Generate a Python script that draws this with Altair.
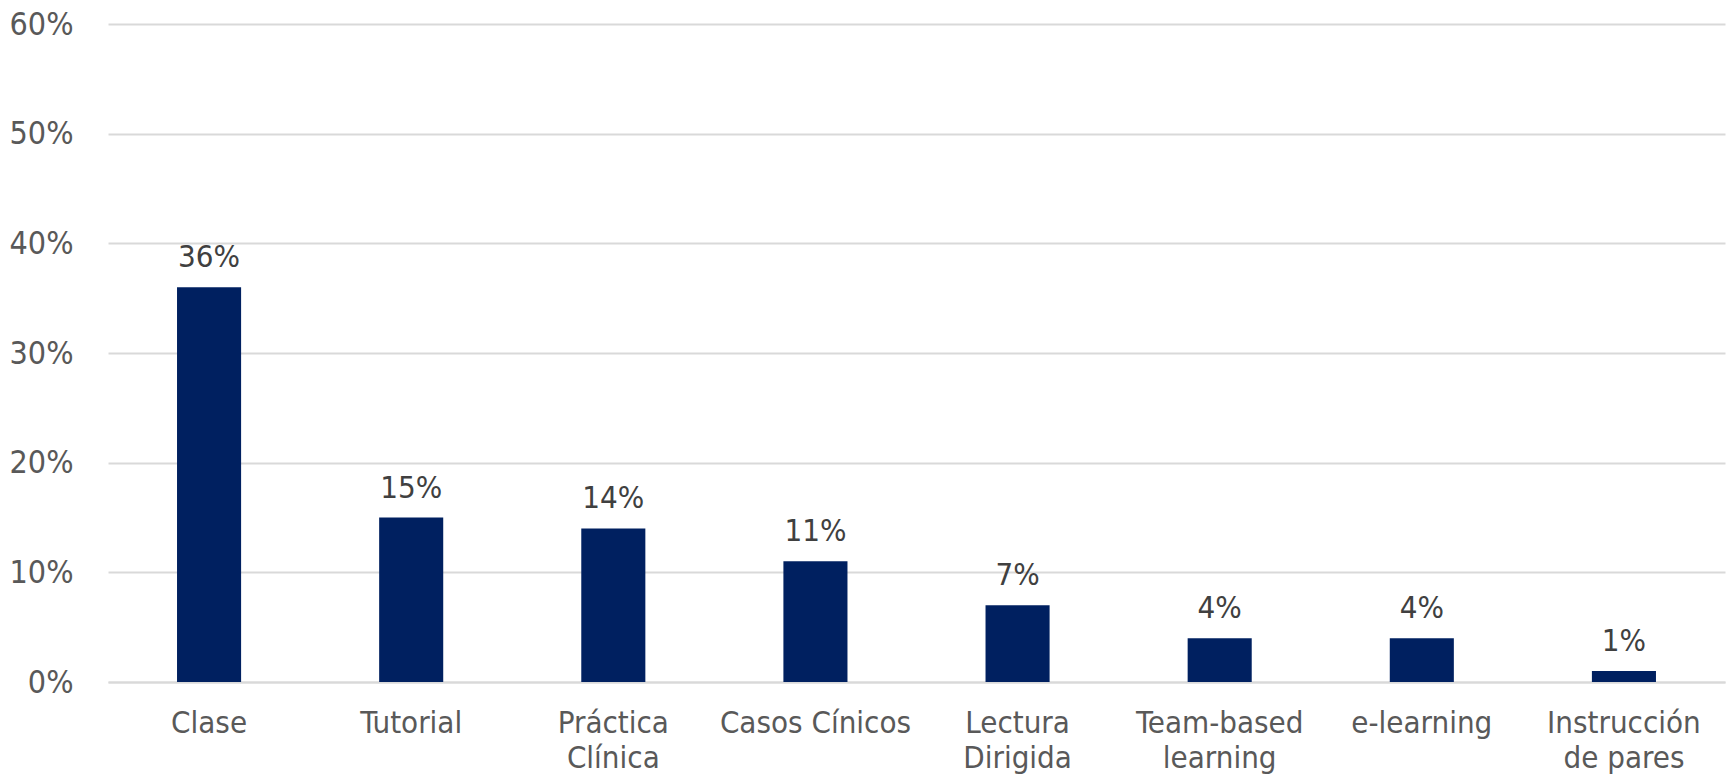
import altair as alt
import pandas as pd

categories = ["Clase", "Tutorial", "Práctica\nClínica", "Casos Cínicos",
              "Lectura\nDirigida", "Team-based\nlearning", "e-learning",
              "Instrucción\nde pares"]
values = [0.36, 0.15, 0.14, 0.11, 0.07, 0.04, 0.04, 0.01]
y_ticks = [0, 0.1, 0.2, 0.3, 0.4, 0.5, 0.6]

df = pd.DataFrame({"cat": categories, "val": values})

FONT = "Liberation Sans Narrow, DejaVu Sans Condensed, sans-serif"

x = alt.X("cat:N", sort=categories, title=None,
          scale=alt.Scale(paddingInner=0.683, paddingOuter=0.3415),
          axis=alt.Axis(labelAngle=0, labelExpr="split(datum.label, '\\n')",
                        labelFont=FONT, labelFontSize=31, labelColor="#595959",
                        labelLineHeight=35, labelPadding=26, ticks=False, tickSize=0,
                        domainColor="#d9d9d9", domainWidth=2, labelLimit=400))
y = alt.Y("val:Q", title=None,
          scale=alt.Scale(domain=[0, 0.6], nice=False),
          axis=alt.Axis(values=y_ticks, format=".0%", labelFont=FONT,
                        labelFontSize=32, labelColor="#595959", labelPadding=35,
                        ticks=False, tickSize=0, domain=False,
                        gridColor="#d9d9d9", gridWidth=2))

bars = alt.Chart(df).mark_bar(color="#002060").encode(x=x, y=y)
labels = alt.Chart(df).mark_text(dy=-20, baseline="alphabetic", font=FONT,
                                 fontSize=31, color="#404040").encode(
    x=alt.X("cat:N", sort=categories),
    y="val:Q",
    text=alt.Text("val:Q", format=".0%"))

chart = (bars + labels).properties(
    width=1617, height=658,
    background="white",
    autosize=alt.AutoSizeParams(type="none"),
    padding={"left": 108, "top": 24, "right": 6, "bottom": 95},
).configure_view(stroke=None)

chart.save("out.html", embed_options={"renderer": "svg", "actions": False})
